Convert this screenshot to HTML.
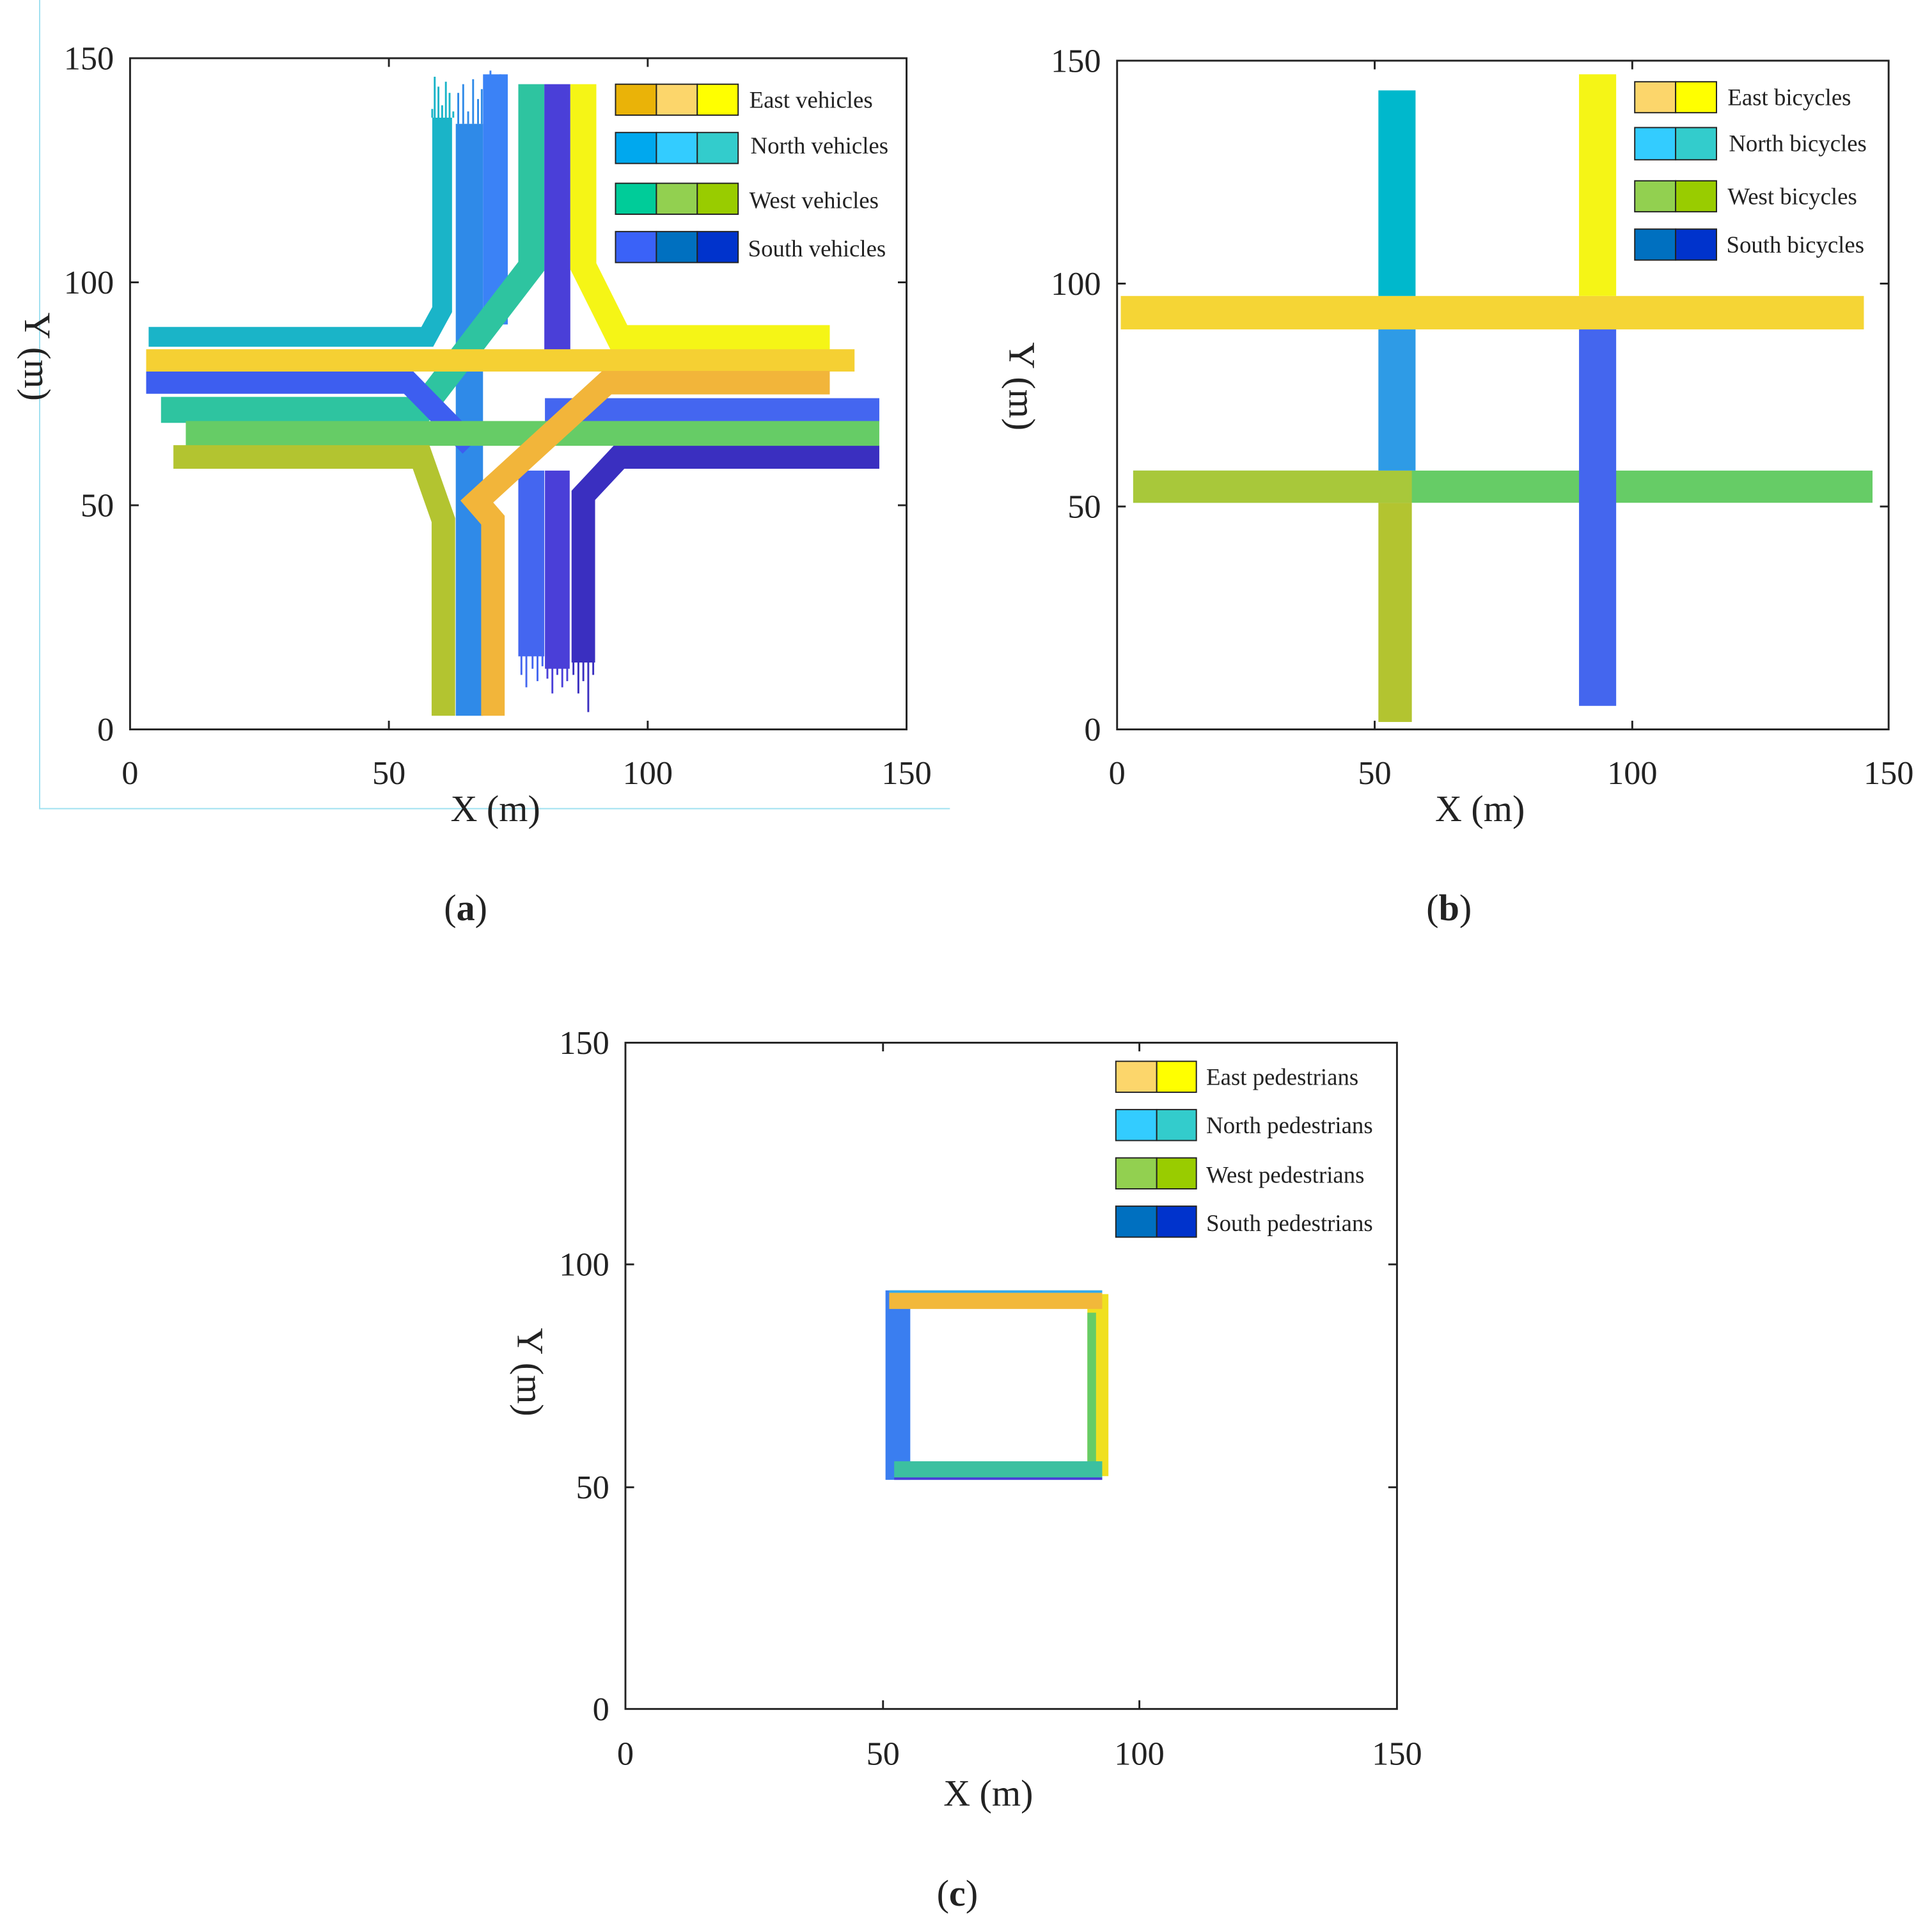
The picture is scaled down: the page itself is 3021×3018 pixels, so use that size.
<!DOCTYPE html>
<html><head><meta charset="utf-8"><style>
html,body{margin:0;padding:0;background:#fff;}
svg{display:block;}
text{font-family:"Liberation Serif",serif;fill:#222;}
.t{font-size:27px;}
.lg{font-size:19px;}
.ax{font-size:30px;}
.b{fill:none;stroke-linejoin:miter;stroke-linecap:butt;}
.r{fill:none;stroke-width:1.5;}
</style></head><body>
<svg width="3021" height="3018" viewBox="0 0 1560 1558.5" xmlns="http://www.w3.org/2000/svg">
<rect width="1560" height="1558.5" fill="#fff"/>
<path d="M32 0 V653 H767" stroke="#9fe0f0" stroke-width="1" fill="none"/>

<!-- ===== Plot (a) ===== -->
<g>
<!-- ragged ends -->
<g class="r" stroke="#1ab4c8">
<path d="M349 95 V88 M351 95 V62 M354 95 V70 M357 95 V85 M360 95 V66 M363 95 V75 M366 95 V90"/>
</g>
<g class="r" stroke="#2f8ae8">
<path d="M370 100 V75 M374 100 V68 M378 100 V90 M382 100 V64 M386 100 V80 M389 100 V72"/>
</g>
<g class="r" stroke="#3b82f6">
<path d="M393 62 V70 M396 62 V57 M400 62 V75 M404 62 V60 M408 62 V68"/>
</g>
<g class="r" stroke="#4466f0">
<path d="M421 528 V545 M425 528 V555 M430 528 V540 M434 528 V550 M438 528 V538"/>
</g>
<g class="r" stroke="#4a3fd8">
<path d="M442 538 V548 M446 538 V560 M450 538 V545 M454 538 V555 M458 538 V550"/>
</g>
<g class="r" stroke="#3a2fc0">
<path d="M463 533 V545 M467 533 V560 M471 533 V550 M475 533 V575 M479 533 V545"/>
</g>
<polyline class="b" stroke="#1ab4c8" stroke-width="16" points="120,272 345,272 357,250 357,95"/>
<polyline class="b" stroke="#2f8ae8" stroke-width="22" points="379,100 379,578"/>
<polyline class="b" stroke="#3b82f6" stroke-width="20" points="400,60 400,262"/>
<polyline class="b" stroke="#2ec4a0" stroke-width="21" points="429,68 429,215 340,331 130,331"/>
<polyline class="b" stroke="#4a3fd8" stroke-width="21" points="450,68 450,300"/>
<polyline class="b" stroke="#4466f0" stroke-width="21" points="429,380 429,530"/>
<polyline class="b" stroke="#4466f0" stroke-width="19" points="710,331 440,331"/>
<polyline class="b" stroke="#3a2fc0" stroke-width="19" points="710,369 500,369 471,400 471,535"/>
<polyline class="b" stroke="#4a3fd8" stroke-width="20" points="450,380 450,540"/>
<polyline class="b" stroke="#3d5ef0" stroke-width="18" points="118,309 330,309 380,360"/>
<polyline class="b" stroke="#66cc66" stroke-width="20" points="150,350 710,350"/>
<polyline class="b" stroke="#b3c430" stroke-width="19" points="140,369 340,369 358,420 358,578"/>
<polyline class="b" stroke="#f5f516" stroke-width="21" points="471,68 471,215 500,273 670,273"/>
<polyline class="b" stroke="#f5d033" stroke-width="18" points="118,291 690,291"/>
<polyline class="b" stroke="#f2b53a" stroke-width="19" points="670,309 490,309 385,405 398,420 398,578"/>
<rect x="105" y="47" width="627" height="542" fill="none" stroke="#222" stroke-width="1.5"/>
<g stroke="#222" stroke-width="1.5">
<line x1="314" y1="589" x2="314" y2="582"/><line x1="523" y1="589" x2="523" y2="582"/>
<line x1="314" y1="47" x2="314" y2="54"/><line x1="523" y1="47" x2="523" y2="54"/>
<line x1="105" y1="408" x2="112" y2="408"/><line x1="105" y1="228" x2="112" y2="228"/>
<line x1="732" y1="408" x2="725" y2="408"/><line x1="732" y1="228" x2="725" y2="228"/>
</g>
<g class="t" text-anchor="middle">
<text x="105" y="633">0</text><text x="314" y="633">50</text><text x="523" y="633">100</text><text x="732" y="633">150</text>
</g>
<g class="t" text-anchor="end">
<text x="92" y="598">0</text><text x="92" y="417">50</text><text x="92" y="237">100</text><text x="92" y="56">150</text>
</g>
<text class="ax" x="400" y="663" text-anchor="middle">X (m)</text>
<text class="ax" transform="translate(20,288) rotate(90)" text-anchor="middle">Y (m)</text>
<g stroke="#222" stroke-width="1">
<rect x="497" y="68" width="33" height="25" fill="#eab308"/><rect x="530" y="68" width="33" height="25" fill="#fcd66b"/><rect x="563" y="68" width="33" height="25" fill="#ffff00"/>
<rect x="497" y="107" width="33" height="25" fill="#00a8ee"/><rect x="530" y="107" width="33" height="25" fill="#33ccff"/><rect x="563" y="107" width="33" height="25" fill="#33cccc"/>
<rect x="497" y="148" width="33" height="25" fill="#00cc99"/><rect x="530" y="148" width="33" height="25" fill="#92d050"/><rect x="563" y="148" width="33" height="25" fill="#99cc00"/>
<rect x="497" y="187" width="33" height="25" fill="#3a62f8"/><rect x="530" y="187" width="33" height="25" fill="#0070c0"/><rect x="563" y="187" width="33" height="25" fill="#0033cc"/>
</g>
<g class="lg"><text x="605" y="87">East vehicles</text><text x="606" y="124">North vehicles</text><text x="605" y="168">West vehicles</text><text x="604" y="207">South vehicles</text></g>
</g>

<!-- ===== Plot (b) ===== -->
<g>
<rect x="905" y="239" width="600" height="27" fill="#f5d535"/>
<rect x="915" y="380" width="597" height="26" fill="#66cc66"/>
<rect x="915" y="380" width="225" height="26" fill="#a8c83a"/>
<rect x="1113" y="73" width="30" height="166" fill="#00b8cc"/>
<rect x="1113" y="266" width="30" height="114" fill="#2e9be6"/>
<rect x="1113" y="406" width="27" height="177" fill="#b3c430"/>
<rect x="1275" y="60" width="30" height="179" fill="#f5f516"/>
<rect x="1275" y="266" width="30" height="304" fill="#4466ee"/>
<rect x="902" y="49" width="623" height="540" fill="none" stroke="#222" stroke-width="1.5"/>
<g stroke="#222" stroke-width="1.5">
<line x1="1110" y1="589" x2="1110" y2="582"/><line x1="1318" y1="589" x2="1318" y2="582"/>
<line x1="1110" y1="49" x2="1110" y2="56"/><line x1="1318" y1="49" x2="1318" y2="56"/>
<line x1="902" y1="409" x2="909" y2="409"/><line x1="902" y1="229" x2="909" y2="229"/>
<line x1="1525" y1="409" x2="1518" y2="409"/><line x1="1525" y1="229" x2="1518" y2="229"/>
</g>
<g class="t" text-anchor="middle">
<text x="902" y="633">0</text><text x="1110" y="633">50</text><text x="1318" y="633">100</text><text x="1525" y="633">150</text>
</g>
<g class="t" text-anchor="end">
<text x="889" y="598">0</text><text x="889" y="418">50</text><text x="889" y="238">100</text><text x="889" y="58">150</text>
</g>
<text class="ax" x="1195" y="663" text-anchor="middle">X (m)</text>
<text class="ax" transform="translate(815,312) rotate(90)" text-anchor="middle">Y (m)</text>
<g stroke="#222" stroke-width="1">
<rect x="1320" y="66" width="33" height="25" fill="#fcd66b"/><rect x="1353" y="66" width="33" height="25" fill="#ffff00"/>
<rect x="1320" y="103" width="33" height="26" fill="#33ccff"/><rect x="1353" y="103" width="33" height="26" fill="#33cccc"/>
<rect x="1320" y="146" width="33" height="25" fill="#92d050"/><rect x="1353" y="146" width="33" height="25" fill="#99cc00"/>
<rect x="1320" y="185" width="33" height="25" fill="#0070c0"/><rect x="1353" y="185" width="33" height="25" fill="#0033cc"/>
</g>
<g class="lg"><text x="1395" y="85">East bicycles</text><text x="1396" y="122">North bicycles</text><text x="1395" y="165">West bicycles</text><text x="1394" y="204">South bicycles</text></g>
</g>

<!-- ===== Plot (c) ===== -->
<g>
<rect x="715" y="1042" width="20" height="153" fill="#3a7ef0"/>
<rect x="878" y="1045" width="17" height="147" fill="#f0e020"/>
<rect x="878" y="1060" width="7" height="125" fill="#66cc66"/>
<rect x="722" y="1180" width="168" height="15" fill="#3cc0a0"/>
<line x1="722" y1="1194" x2="890" y2="1194" stroke="#4a3fd8" stroke-width="2"/>
<rect x="718" y="1042" width="172" height="15" fill="#f2b83a"/>
<line x1="718" y1="1043" x2="890" y2="1043" stroke="#33aaee" stroke-width="2"/>
<rect x="505" y="842" width="623" height="538" fill="none" stroke="#222" stroke-width="1.5"/>
<g stroke="#222" stroke-width="1.5">
<line x1="713" y1="1380" x2="713" y2="1373"/><line x1="920" y1="1380" x2="920" y2="1373"/>
<line x1="713" y1="842" x2="713" y2="849"/><line x1="920" y1="842" x2="920" y2="849"/>
<line x1="505" y1="1201" x2="512" y2="1201"/><line x1="505" y1="1021" x2="512" y2="1021"/>
<line x1="1128" y1="1201" x2="1121" y2="1201"/><line x1="1128" y1="1021" x2="1121" y2="1021"/>
</g>
<g class="t" text-anchor="middle">
<text x="505" y="1425">0</text><text x="713" y="1425">50</text><text x="920" y="1425">100</text><text x="1128" y="1425">150</text>
</g>
<g class="t" text-anchor="end">
<text x="492" y="1389">0</text><text x="492" y="1210">50</text><text x="492" y="1030">100</text><text x="492" y="851">150</text>
</g>
<text class="ax" x="798" y="1458" text-anchor="middle">X (m)</text>
<text class="ax" transform="translate(418,1108) rotate(90)" text-anchor="middle">Y (m)</text>
<g stroke="#222" stroke-width="1">
<rect x="901" y="857" width="33" height="25" fill="#fcd66b"/><rect x="934" y="857" width="32" height="25" fill="#ffff00"/>
<rect x="901" y="896" width="33" height="25" fill="#33ccff"/><rect x="934" y="896" width="32" height="25" fill="#33cccc"/>
<rect x="901" y="935" width="33" height="25" fill="#92d050"/><rect x="934" y="935" width="32" height="25" fill="#99cc00"/>
<rect x="901" y="974" width="33" height="25" fill="#0070c0"/><rect x="934" y="974" width="32" height="25" fill="#0033cc"/>
</g>
<g class="lg"><text x="974" y="876">East pedestrians</text><text x="974" y="915">North pedestrians</text><text x="974" y="955">West pedestrians</text><text x="974" y="994">South pedestrians</text></g>
</g>

<g class="ax" text-anchor="middle">
<text x="376" y="743">(<tspan font-weight="bold">a</tspan>)</text>
<text x="1170" y="743">(<tspan font-weight="bold">b</tspan>)</text>
<text x="773" y="1539">(<tspan font-weight="bold">c</tspan>)</text>
</g>
</svg>
</body></html>
